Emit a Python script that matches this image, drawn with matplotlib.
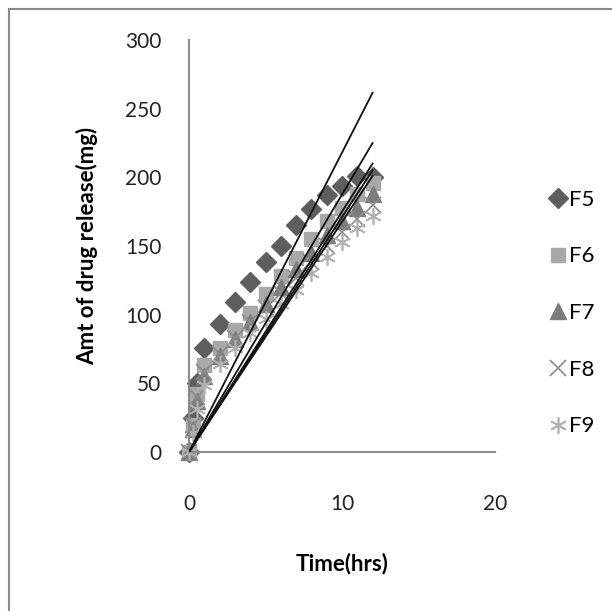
import numpy as np
import matplotlib.pyplot as plt
from matplotlib.patches import Rectangle

# release data (mg)
time_hrs = [0, 0.25, 0.5, 1, 2, 3, 4, 5, 6, 7, 8, 9, 10, 11, 12]
f5 = [0, 25, 50, 76, 93, 109, 124, 138, 150, 165, 177, 187, 194, 201, 200]
f6 = [0, 20, 42, 63, 76, 89, 101, 115, 128, 141, 155, 168, 178, 188, 196]
f7 = [0, 17, 37, 55, 70, 82, 95, 108, 120, 133, 145, 158, 168, 178, 188]
f8 = [0, 20, 40, 58, 71, 83, 95, 105, 116, 127, 138, 150, 160, 170, 180]
f9 = [0, 14, 31, 49, 64, 76, 87, 97, 108, 118, 130, 142, 153, 163, 172]

labels = ['F5', 'F6', 'F7', 'F8', 'F9']
# zero order trendline slopes (mg/hr), through origin
slopes = [21.8, 18.75, 17.5, 17.1, 16.75]
fit_end = 12

series = [f5, f6, f7, f8, f9]
markers = ['D', 's', '^', 'x', (6, 2, 0)]
colors = ['#5e5e5e', '#a8a8a8', '#7d7d7d', '#8a8a8a', '#b0b0b0']
msizes = [10, 10.5, 11, 11, 12]

plt.rcParams['font.family'] = ['Lato', 'DejaVu Sans']

fig = plt.figure(figsize=(6.12, 6.11), dpi=100)

# outer chart border (cut at right and bottom)
fig.patches.append(Rectangle((9 / 612, -0.05), 1.1, 1 - 9 / 611 + 0.05,
                             transform=fig.transFigure, fill=False,
                             edgecolor='#8a8a8a', linewidth=1.5))

# caption above the chart, mostly cut off in the source
fig.text(0.5, 1 + 4 / 611, 'Fig. 9: Zero order plot of formulations (F5-F9)',
         ha='center', va='baseline', fontsize=14, fontweight='bold',
         family='Liberation Serif')

ax = fig.add_axes([189 / 612, 159 / 611, 306 / 612, 412 / 611])

for ys, m, c, ms, lab in zip(series, markers, colors, msizes, labels):
    if m in ('x', (6, 2, 0)):
        ax.plot(time_hrs, ys, linestyle='none', marker=m, markersize=ms,
                markeredgecolor=c, markeredgewidth=1.2, label=lab, clip_on=False)
    else:
        ax.plot(time_hrs, ys, linestyle='none', marker=m, markersize=ms,
                color=c, markeredgecolor=c, label=lab, clip_on=False)

t_fit = np.array([0, fit_end])
for s in slopes:
    ax.plot(t_fit, s * t_fit, color='#111111', linewidth=1.3, zorder=5)

ax.set_xlim(0, 20)
ax.set_ylim(0, 300)
ax.set_xticks([0, 10, 20])
ax.set_yticks(range(0, 301, 50))
ax.tick_params(length=0, labelsize=15, colors='#222222')
ax.tick_params(axis='y', pad=20)
ax.tick_params(axis='x', pad=30)
for sp in ['top', 'right']:
    ax.spines[sp].set_visible(False)
for sp in ['left', 'bottom']:
    ax.spines[sp].set_color('#8a8a8a')
    ax.spines[sp].set_linewidth(1.5)

ax.set_xlabel('Time(hrs)', fontsize=16, fontweight='bold', labelpad=28)
ax.set_ylabel('Amt of drug release(mg)', fontsize=16, fontweight='bold', labelpad=19)

fig.legend(loc='center left', bbox_to_anchor=(538 / 612, 1 - 313 / 611),
           frameon=False, fontsize=16, labelspacing=1.65, handletextpad=0.0,
           handlelength=1.0, borderaxespad=0)

fig.savefig('out.png', dpi=100)
